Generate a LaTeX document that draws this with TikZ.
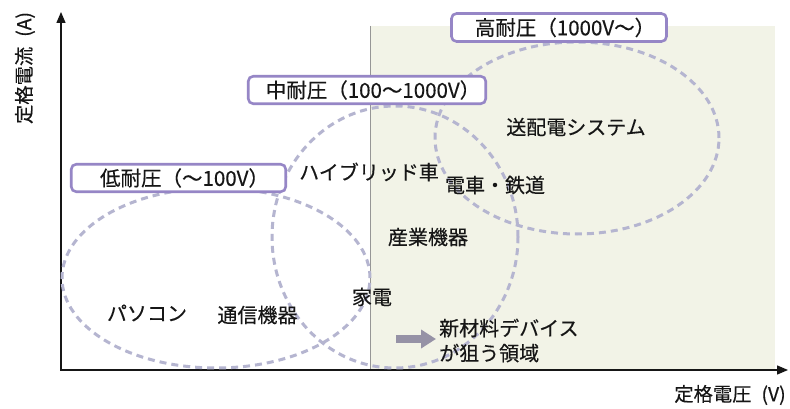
\documentclass[tikz,border=0pt]{standalone}
\usepackage{fontspec}
\setmainfont[FakeBold=0.35]{Noto Sans CJK JP}
\usetikzlibrary{arrows.meta,shapes.geometric}
\definecolor{shadecol}{RGB}{242,243,231}
\definecolor{dashcol}{RGB}{181,181,208}
\definecolor{boxcol}{RGB}{150,134,198}
\definecolor{arrcol}{RGB}{150,146,166}
\definecolor{edgecol}{RGB}{150,150,150}
\definecolor{inkcol}{RGB}{22,22,22}
\begin{document}
\begin{tikzpicture}[x=1pt,y=-1pt,
  region/.style={ellipse, draw=dashcol, line width=3pt, dash pattern=on 7pt off 5pt, inner sep=0pt},
  rangebox/.style={draw=boxcol, line width=2.6pt, rounded corners=5pt, fill=white, inner sep=0pt, text=inkcol, font=\fontsize{20.5}{24}\selectfont},
  app/.style={font=\fontsize{20}{25}\selectfont, inner sep=0pt, text=inkcol},
  axislabel/.style={font=\fontsize{19.3}{23}\selectfont, inner sep=0pt, text=inkcol},
  axisline/.style={line width=1.3pt, draw=inkcol, {Triangle[length=11pt,width=9pt]}-{Triangle[length=11pt,width=9pt]}}
]
\useasboundingbox (0,0) rectangle (790,409);
\fill[white] (0,0) rectangle (790,409);
\fill[shadecol] (370,26) rectangle (775,370);
\coordinate (st) at (370,26);
\coordinate (sb) at (370,370);
\draw[edgecol, line width=0.8pt] (st) -- (sb);
% axes
\coordinate (O) at (61,370);
\coordinate (ytip) at (61,12);
\coordinate (xtip) at (788,370);
\draw[axisline] (ytip) -- (O) -- (xtip);
% regions
\node[region, minimum width=308pt, minimum height=180pt] (low) at (216,278) {};
\node[region, minimum width=246pt, minimum height=262pt] (mid) at (395,237) {};
\node[region, minimum width=284pt, minimum height=192pt] (high) at (577,138) {};
% range boxes
\node[rangebox, minimum width=214.5pt, minimum height=27.5pt] (lowbox) at (178.5,178) {\hspace*{12pt}低耐圧（〜100V）};
\node[rangebox, minimum width=237.5pt, minimum height=27.5pt] (midbox) at (367,90) {\hspace*{12pt}中耐圧（100〜1000V）};
\node[rangebox, minimum width=215pt, minimum height=28pt] (highbox) at (559,27.5) {\hspace*{12pt}高耐圧（1000V〜）};
% applications
\node[app] (t1) at (576,127) {送配電システム};
\node[app] (t2) at (369,172) {ハイブリッド車};
\node[app] (t3) at (495,185) {電車・鉄道};
\node[app] (t4) at (428,237) {産業機器};
\node[app] (t5) at (372,297) {家電};
\node[app] (t6) at (147,313) {パソコン};
\node[app] (t7) at (257.5,315) {通信機器};
\node[app, anchor=west, align=left] (t8) at (439,340.5) {新材料デバイス\\が狙う領域};
% block arrow
\coordinate (a1) at (396,339);
\coordinate (a2) at (436,339);
\draw[arrcol, line width=8pt, -{Triangle[length=15pt,width=18pt]}] (a1) -- (a2);
% axis labels
\node[axislabel, rotate=90] (ylab) at (25,68) {定格電流\hspace{10pt}(A)};
\node[axislabel] (xlab) at (730,395) {定格電圧\hspace{10pt}(V)};
\end{tikzpicture}
\end{document}
